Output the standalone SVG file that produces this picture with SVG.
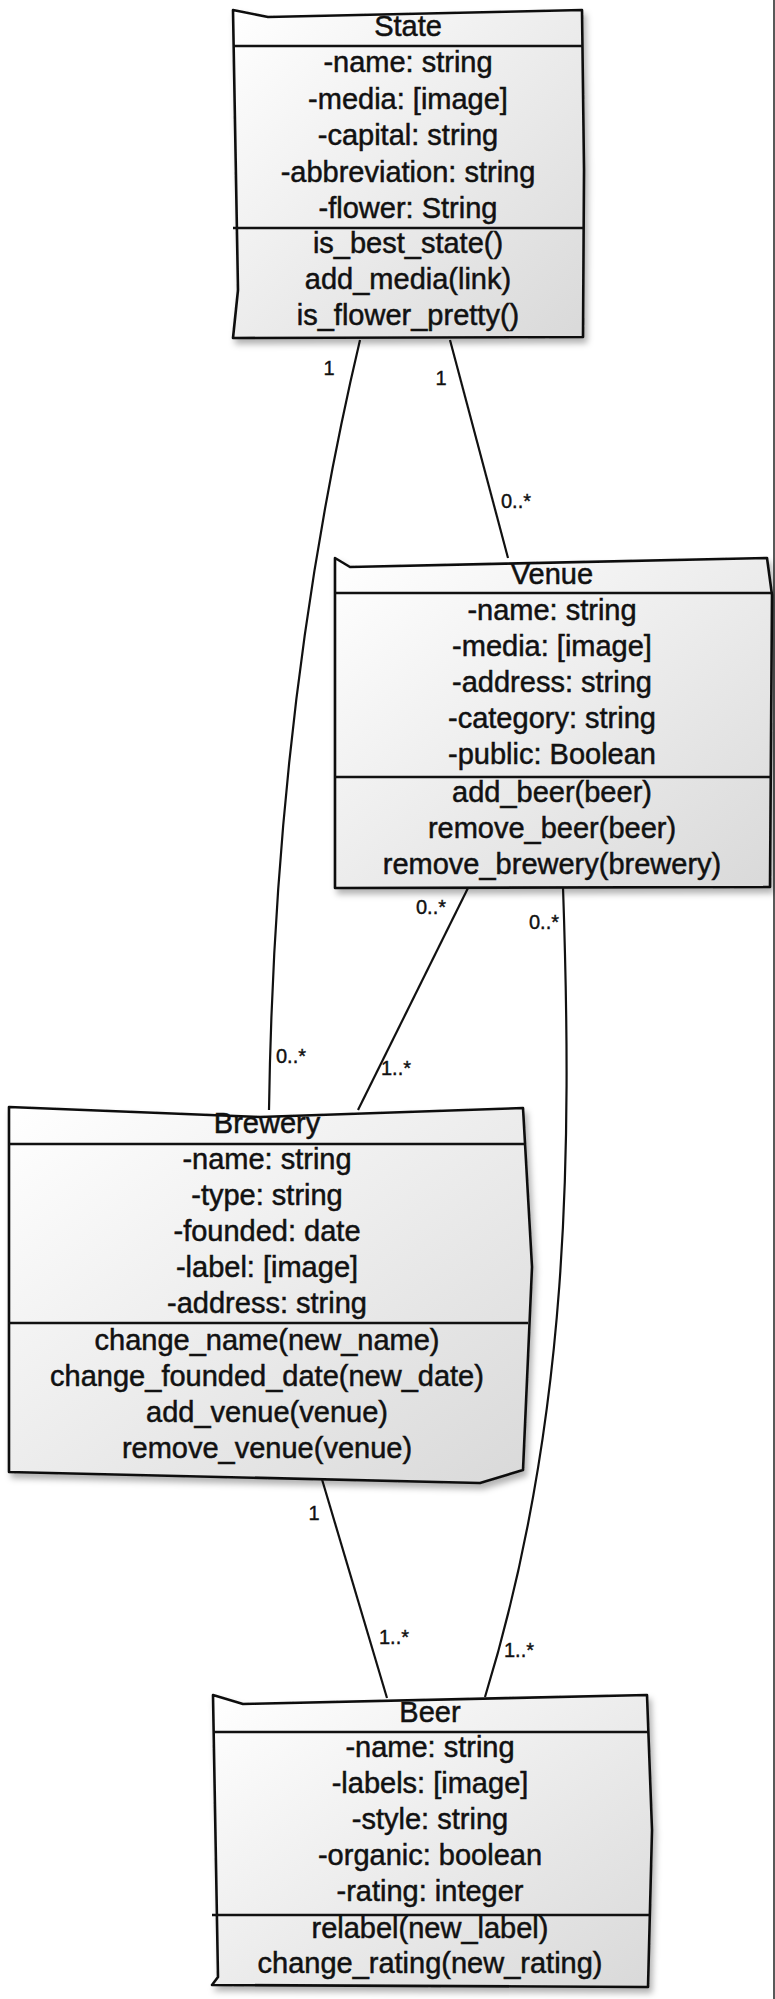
<svg xmlns="http://www.w3.org/2000/svg" width="775" height="1999" viewBox="0 0 775 1999">
<style>
.box{fill:url(#g);stroke:#111;stroke-width:2.6;stroke-linejoin:round;filter:url(#sh)}
.div{stroke:#111;stroke-width:2.4;fill:none}
.t{font-family:"Liberation Sans",Arial,sans-serif;font-size:29px;fill:#111;stroke:#111;stroke-width:0.5;text-anchor:middle}
.c{stroke:#111;stroke-width:2.2;fill:none}
.l{font-family:"Liberation Sans",Arial,sans-serif;font-size:20px;fill:#111;stroke:#111;stroke-width:0.4;text-anchor:middle}
</style>
<defs>
<linearGradient id="g" x1="0" y1="0" x2="1" y2="1">
<stop offset="0" stop-color="#ffffff"/>
<stop offset="1" stop-color="#d9d9d9"/>
</linearGradient>
<filter id="sh" x="-10%" y="-10%" width="125%" height="125%">
<feDropShadow dx="3" dy="5" stdDeviation="3" flood-color="#000" flood-opacity="0.3"/>
</filter>
</defs>
<rect width="775" height="1999" fill="#fff"/>
<line x1="774" y1="0" x2="774" y2="1999" stroke="#222" stroke-width="1.5"/>

<g id="connectors">
<path class="c" d="M360,340 Q275,700 269,1110"/>
<path class="c" d="M450,340 L508,558"/>
<path class="c" d="M468,888 L358,1110"/>
<path class="c" d="M563,887 C572,1150 570,1420 485,1697"/>
<path class="c" d="M321,1476 L387,1698"/>
<text class="l" x="329" y="375">1</text>
<text class="l" x="291" y="1063">0..*</text>
<text class="l" x="441" y="385">1</text>
<text class="l" x="516" y="508">0..*</text>
<text class="l" x="431" y="914">0..*</text>
<text class="l" x="396" y="1075">1..*</text>
<text class="l" x="544" y="929">0..*</text>
<text class="l" x="314" y="1520">1</text>
<text class="l" x="394" y="1644">1..*</text>
<text class="l" x="519" y="1657">1..*</text>
</g>

<g id="node-state">
<path class="box" d="M233,10 L268,17 L582,10 L584,170 L583,337 L233,338 L238,290 Z"/>
<line class="div" x1="233" y1="46" x2="583" y2="46"/>
<line class="div" x1="233" y1="228" x2="583" y2="228"/>
<text class="t" x="408" y="36">State</text>
<text class="t" x="408" y="72">-name: string</text>
<text class="t" x="408" y="109">-media: [image]</text>
<text class="t" x="408" y="145">-capital: string</text>
<text class="t" x="408" y="182">-abbreviation: string</text>
<text class="t" x="408" y="218">-flower: String</text>
<text class="t" x="408" y="253">is_best_state()</text>
<text class="t" x="408" y="289">add_media(link)</text>
<text class="t" x="408" y="325">is_flower_pretty()</text>
</g>

<g id="node-venue">
<path class="box" d="M335,558 L350,567 L767,558 L772,595 L770,887 L335,888 Z"/>
<line class="div" x1="335" y1="593" x2="771" y2="593"/>
<line class="div" x1="335" y1="777" x2="771" y2="777"/>
<text class="t" x="552" y="584">Venue</text>
<text class="t" x="552" y="620">-name: string</text>
<text class="t" x="552" y="656">-media: [image]</text>
<text class="t" x="552" y="692">-address: string</text>
<text class="t" x="552" y="728">-category: string</text>
<text class="t" x="552" y="764">-public: Boolean</text>
<text class="t" x="552" y="802">add_beer(beer)</text>
<text class="t" x="552" y="838">remove_beer(beer)</text>
<text class="t" x="552" y="874">remove_brewery(brewery)</text>
</g>

<g id="node-brewery">
<path class="box" d="M9,1107 L260,1117 L523,1108 L532,1267 L523,1470 L480,1483 L9,1472 Z"/>
<line class="div" x1="9" y1="1144" x2="524" y2="1144"/>
<line class="div" x1="8" y1="1323" x2="528" y2="1323"/>
<text class="t" x="267" y="1133">Brewery</text>
<text class="t" x="267" y="1169">-name: string</text>
<text class="t" x="267" y="1205">-type: string</text>
<text class="t" x="267" y="1241">-founded: date</text>
<text class="t" x="267" y="1277">-label: [image]</text>
<text class="t" x="267" y="1313">-address: string</text>
<text class="t" x="267" y="1350">change_name(new_name)</text>
<text class="t" x="267" y="1386">change_founded_date(new_date)</text>
<text class="t" x="267" y="1422">add_venue(venue)</text>
<text class="t" x="267" y="1458">remove_venue(venue)</text>
</g>

<g id="node-beer">
<path class="box" d="M213,1695 L243,1704 L647,1695 L652,1830 L648,1987 L212,1985 L218,1977 Z"/>
<line class="div" x1="213" y1="1732" x2="648" y2="1732"/>
<line class="div" x1="212" y1="1915" x2="649" y2="1915"/>
<text class="t" x="430" y="1722">Beer</text>
<text class="t" x="430" y="1757">-name: string</text>
<text class="t" x="430" y="1793">-labels: [image]</text>
<text class="t" x="430" y="1829">-style: string</text>
<text class="t" x="430" y="1865">-organic: boolean</text>
<text class="t" x="430" y="1901">-rating: integer</text>
<text class="t" x="430" y="1938">relabel(new_label)</text>
<text class="t" x="430" y="1973">change_rating(new_rating)</text>
</g>
</svg>
